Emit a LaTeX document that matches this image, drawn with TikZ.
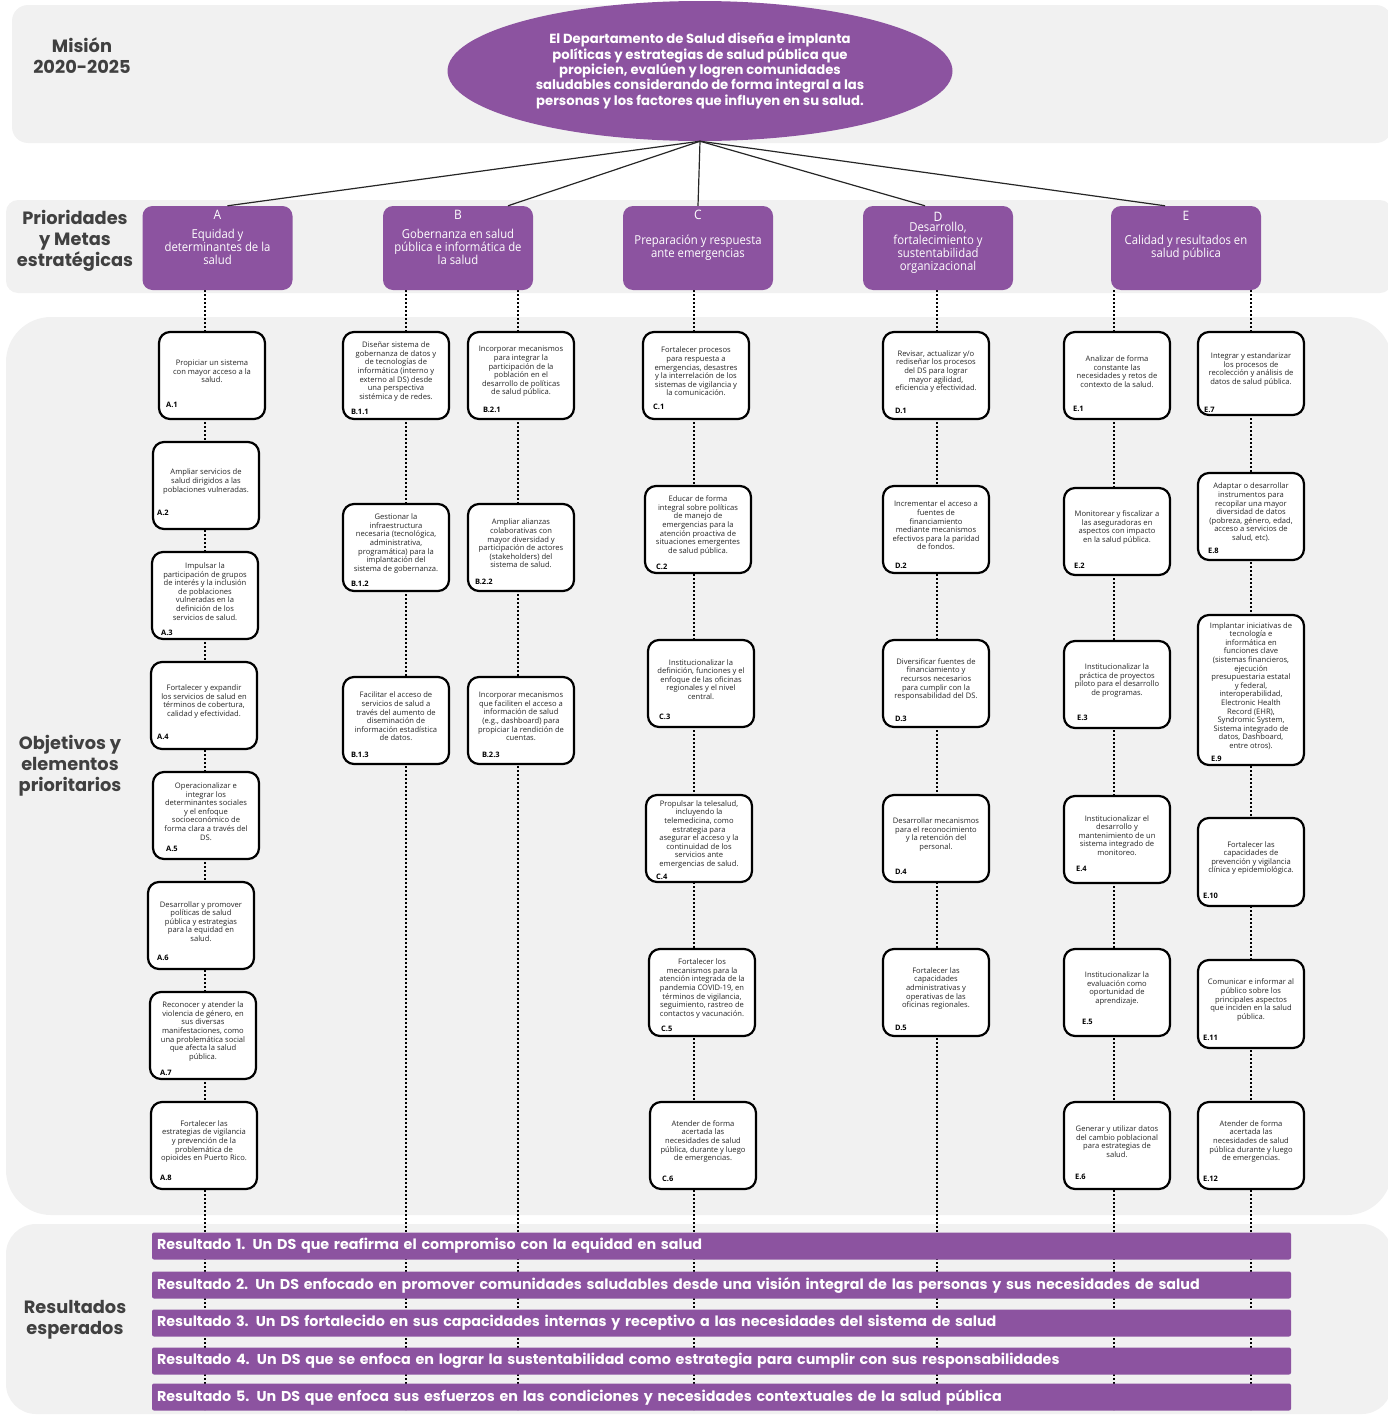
\documentclass[tikz,border=0pt]{standalone}
\usepackage{fontspec}
\setmainfont{Open Sans}
\newfontfamily\popfont{Poppins}
\newfontfamily\narrowfont[FakeStretch=0.92]{Open Sans}
\usetikzlibrary{shapes.geometric,calc}
\definecolor{dspurple}{HTML}{8C53A0}
\definecolor{panelgray}{HTML}{F1F1F1}
\definecolor{labelgray}{HTML}{404040}

\tikzset{
  panel/.style={fill=panelgray, draw=none},
  sidelabel/.style={font=\popfont\bfseries\fontsize{17.8}{21}\selectfont, text=labelgray, align=center},
  mission/.style={ellipse, fill=dspurple, minimum width=505pt, minimum height=140pt, inner sep=0pt,
    text=white, align=center, font=\popfont\bfseries\fontsize{13.2}{15.3}\selectfont},
  priobox/.style={fill=dspurple, draw=none, rounded corners=10pt, minimum width=150pt, minimum height=84pt, inner sep=0pt},
  priolet/.style={text=white, font=\narrowfont\fontsize{13}{14}\selectfont, inner sep=0pt},
  priotxt/.style={text=white, font=\narrowfont\fontsize{12.3}{13}\selectfont, align=center, inner sep=0pt},
  objbox/.style={draw=black, line width=2.2pt, fill=white, rounded corners=11pt, minimum width=106pt, inner sep=0pt},
  objtxt/.style={font=\fontsize{7.6}{8.6}\selectfont, align=center, text=black!85, inner sep=0pt},
  objlab/.style={font=\bfseries\fontsize{7.5}{8}\selectfont, anchor=west, inner sep=0pt},
  dotline/.style={line width=2.3pt, dash pattern=on 2.3pt off 1.7pt},
  linkline/.style={line width=1.2pt, draw=black!85},
  resbar/.style={fill=dspurple, rounded corners=2pt, minimum width=1139pt, minimum height=27pt,
    text width=1129pt, inner xsep=5pt, inner ysep=0pt, align=left, text=white,
    font=\popfont\bfseries\fontsize{14.3}{16}\selectfont},
}

% objective box: [code offset from lower left corner] name, x-centre, y-top, height, code, text
\newcommand\objective[7][9,-12]{%
  \node[objbox, minimum height=#5pt] (#2) at (#3, #4+#5/2) {};
  \node[objtxt] (#2txt) at ([yshift=4pt]#2.center) {#7};
  \node[objlab] (#2lab) at ($(#2.south west)+(#1)$) {#6};
}

\begin{document}
\begin{tikzpicture}[x=1pt,y=-1pt]
\useasboundingbox (0,0) rectangle (1388,1416);

% background bands
\fill[panel, rounded corners=16pt] (12,5) rectangle (1392,143);
\fill[panel, rounded corners=12pt] (6,200) rectangle (1392,293);
\fill[panel, rounded corners=45pt] (6,317) rectangle (1392,1215);
\fill[panel, rounded corners=30pt] (6,1224) rectangle (1392,1414);

% row headings
\node[sidelabel] (hmision) at (82,56) {Misión\\2020-2025};
\node[sidelabel] (hprio) at (75,241) {Prioridades\\y Metas\\estratégicas};
\node[sidelabel] (hobj) at (70,766) {Objetivos y\\elementos\\prioritarios};
\node[sidelabel] (hres) at (75,1320) {Resultados\\esperados};

% vertical dotted guides of each column
\foreach \n/\x in {A/205, Ba/406, Bb/518, C/694, D/937, Ea/1114, Eb/1251} {
  \coordinate (col\n top) at (\x,290);
  \coordinate (col\n bot) at (\x,1410);
  \draw[dotline] (col\n top) -- (col\n bot);
}

% mission
\node[mission] (mision) at (700,71) {El Departamento de Salud diseña e implanta\\políticas y estrategias de salud pública que\\propicien, evalúen y logren comunidades\\saludables considerando de forma integral a las\\personas y los factores que influyen en su salud.};

% strategic priorities
\node[priobox] (pA) at (217.5,248) {};
\node[priobox] (pB) at (458,248) {};
\node[priobox] (pC) at (698,248) {};
\node[priobox] (pD) at (938,248) {};
\node[priobox] (pE) at (1186,248) {};

\draw[linkline] (mision.south) -- ([xshift=10pt]pA.north);
\draw[linkline] (mision.south) -- ([xshift=50pt]pB.north);
\draw[linkline] (mision.south) -- (pC.north);
\draw[linkline] (mision.south) -- ([xshift=-13pt]pD.north);
\draw[linkline] (mision.south) -- ([xshift=-21pt]pE.north);

\node[priolet] (pAl) at (217.5,215) {A};
\node[priotxt] (pAt) at (217.5,247) {Equidad y\\determinantes de la\\salud};
\node[priolet] (pBl) at (458,215) {B};
\node[priotxt] (pBt) at (458,247) {Gobernanza en salud\\pública e informática de\\la salud};
\node[priolet] (pCl) at (698,215) {C};
\node[priotxt] (pCt) at (698,248) {Preparación y respuesta\\ante emergencias};
\node[priolet] (pDl) at (938,217) {D};
\node[priotxt] (pDt) at (938,248) {Desarrollo,\\fortalecimiento y\\sustentabilidad\\organizacional};
\node[priolet] (pEl) at (1186,216) {E};
\node[priotxt] (pEt) at (1186,248) {Calidad y resultados en\\salud pública};

% column A
\objective[8,-15]{a1}{212}{332}{87}{A.1}{Propiciar un sistema\\con mayor acceso a la\\salud.}
\objective[5,-17]{a2}{206}{442}{87}{A.2}{Ampliar servicios de\\salud dirigidos a las\\poblaciones vulneradas.}
\objective[10,-7]{a3}{205}{552}{87}{A.3}{Impulsar la\\participación de grupos\\de interés y la inclusión\\de poblaciones\\vulneradas en la\\definición de los\\servicios de salud.}
\objective[7,-13]{a4}{204}{662}{87}{A.4}{Fortalecer y expandir\\los servicios de salud en\\términos de cobertura,\\calidad y efectividad.}
\objective[14,-11]{a5}{206}{772}{87}{A.5}{Operacionalizar e\\integrar los\\determinantes sociales\\y el enfoque\\socioeconómico de\\forma clara a través del\\DS.}
\objective[10,-12]{a6}{201}{882}{87}{A.6}{Desarrollar y promover\\políticas de salud\\pública y estrategias\\para la equidad en\\salud.}
\objective[11,-7]{a7}{203}{992}{87}{A.7}{Reconocer y atender la\\violencia de género, en\\sus diversas\\manifestaciones, como\\una problemática social\\que afecta la salud\\pública.}
\objective[10,-12]{a8}{204}{1102}{87}{A.8}{Fortalecer las\\estrategias de vigilancia\\y prevención de la\\problemática de\\opioides en Puerto Rico.}

% column B
\objective[9,-8]{b11}{396}{332}{87}{B.1.1}{Diseñar sistema de\\gobernanza de datos y\\de tecnologías de\\informática (interno y\\externo al DS) desde\\una perspectiva\\sistémica y de redes.}
\objective[9,-8]{b12}{396}{504}{87}{B.1.2}{Gestionar la\\infraestructura\\necesaria (tecnológica,\\administrativa,\\programática) para la\\implantación del\\sistema de gobernanza.}
\objective[9,-10]{b13}{396}{677}{87}{B.1.3}{Facilitar el acceso de\\servicios de salud a\\través del aumento de\\diseminación de\\información estadística\\de datos.}
\objective[16,-10]{b21}{521}{332}{87}{B.2.1}{Incorporar mecanismos\\para integrar la\\participación de la\\población en el\\desarrollo de políticas\\de salud pública.}
\objective[8,-10]{b22}{521}{504}{87}{B.2.2}{Ampliar alianzas\\colaborativas con\\mayor diversidad y\\participación de actores\\(stakeholders) del\\sistema de salud.}
\objective[15,-10]{b23}{521}{677}{87}{B.2.3}{Incorporar mecanismos\\que faciliten el acceso a\\información de salud\\(e.g., dashboard) para\\propiciar la rendición de\\cuentas.}

% column C
\objective[11,-13]{c1}{696}{332}{87}{C.1}{Fortalecer procesos\\para respuesta a\\emergencias, desastres\\y la interrelación de los\\sistemas de vigilancia y\\la comunicación.}
\objective[12,-7]{c2}{698}{486}{87}{C.2}{Educar de forma\\integral sobre políticas\\de manejo de\\emergencias para la\\atención proactiva de\\situaciones emergentes\\de salud pública.}
\objective[12,-11]{c3}{701}{640}{87}{C.3}{Institucionalizar la\\definición, funciones y el\\enfoque de las oficinas\\regionales y el nivel\\central.}
\objective[11,-6]{c4}{699}{795}{87}{C.4}{Propulsar la telesalud,\\incluyendo la\\telemedicina, como\\estrategia para\\asegurar el acceso y la\\continuidad de los\\servicios ante\\emergencias de salud.}
\objective[13,-8]{c5}{702}{949}{87}{C.5}{Fortalecer los\\mecanismos para la\\atención integrada de la\\pandemia COVID-19, en\\términos de vigilancia,\\seguimiento, rastreo de\\contactos y vacunación.}
\objective[13,-11]{c6}{703}{1102}{87}{C.6}{Atender de forma\\acertada las\\necesidades de salud\\pública, durante y luego\\de emergencias.}

% column D
\objective[13,-9]{d1}{936}{332}{87}{D.1}{Revisar, actualizar y/o\\rediseñar los procesos\\del DS para lograr\\mayor agilidad,\\eficiencia y efectividad.}
\objective[13,-8]{d2}{936}{486}{87}{D.2}{Incrementar el acceso a\\fuentes de\\financiamiento\\mediante mecanismos\\efectivos para la paridad\\de fondos.}
\objective[13,-9]{d3}{936}{640}{87}{D.3}{Diversificar fuentes de\\financiamiento y\\recursos necesarios\\para cumplir con la\\responsabilidad del DS.}
\objective[13,-11]{d4}{936}{795}{87}{D.4}{Desarrollar mecanismos\\para el reconocimiento\\y la retención del\\personal.}
\objective[13,-9]{d5}{936}{949}{87}{D.5}{Fortalecer las\\capacidades\\administrativas y\\operativas de las\\oficinas regionales.}

% column E
\objective[10,-11]{e1}{1117}{332}{87}{E.1}{Analizar de forma\\constante las\\necesidades y retos de\\contexto de la salud.}
\objective[11,-10]{e2}{1117}{488}{87}{E.2}{Monitorear y fiscalizar a\\las aseguradoras en\\aspectos con impacto\\en la salud pública.}
\objective[14,-11]{e3}{1117}{641}{87}{E.3}{Institucionalizar la\\práctica de proyectos\\piloto para el desarrollo\\de programas.}
\objective[13,-15]{e4}{1117}{796}{87}{E.4}{Institucionalizar el\\desarrollo y\\mantenimiento de un\\sistema integrado de\\monitoreo.}
\objective[19,-15]{e5}{1117}{949}{87}{E.5}{Institucionalizar la\\evaluación como\\oportunidad de\\aprendizaje.}
\objective[12,-13]{e6}{1117}{1102}{87}{E.6}{Generar y utilizar datos\\del cambio poblacional\\para estrategias de\\salud.}
\objective[7,-6]{e7}{1251}{332}{83}{E.7}{Integrar y estandarizar\\los procesos de\\recolección y análisis de\\datos de salud pública.}
\objective[11,-10]{e8}{1251}{473}{87}{E.8}{Adaptar o desarrollar\\instrumentos para\\recopilar una mayor\\diversidad de datos\\(pobreza, género, edad,\\acceso a servicios de\\salud, etc).}
\objective[14,-7]{e9}{1251}{615}{150}{E.9}{Implantar iniciativas de\\tecnología e\\informática en\\funciones clave\\(sistemas financieros,\\ejecución\\presupuestaria estatal\\y federal,\\interoperabilidad,\\Electronic Health\\Record (EHR),\\Syndromic System,\\Sistema integrado de\\datos, Dashboard,\\entre otros).}
\objective[6,-11]{e10}{1251}{818}{88}{E.10}{Fortalecer las\\capacidades de\\prevención y vigilancia\\clínica y epidemiológica.}
\objective[6,-11]{e11}{1251}{960}{88}{E.11}{Comunicar e informar al\\público sobre los\\principales aspectos\\que inciden en la salud\\pública.}
\objective[6,-11]{e12}{1251}{1102}{87}{E.12}{Atender de forma\\acertada las\\necesidades de salud\\pública durante y luego\\de emergencias.}

% expected results
\node[resbar] (r1) at (721.5,1246) {Resultado 1. Un DS que reafirma el compromiso con la equidad en salud};
\node[resbar] (r2) at (721.5,1285) {Resultado 2. Un DS enfocado en promover comunidades saludables desde una visión integral de las personas y sus necesidades de salud};
\node[resbar] (r3) at (721.5,1323) {Resultado 3. Un DS fortalecido en sus capacidades internas y receptivo a las necesidades del sistema de salud};
\node[resbar] (r4) at (721.5,1361) {Resultado 4. Un DS que se enfoca en lograr la sustentabilidad como estrategia para cumplir con sus responsabilidades};
\node[resbar] (r5) at (721.5,1397) {Resultado 5. Un DS que enfoca sus esfuerzos en las condiciones y necesidades contextuales de la salud pública};
\end{tikzpicture}
\end{document}
